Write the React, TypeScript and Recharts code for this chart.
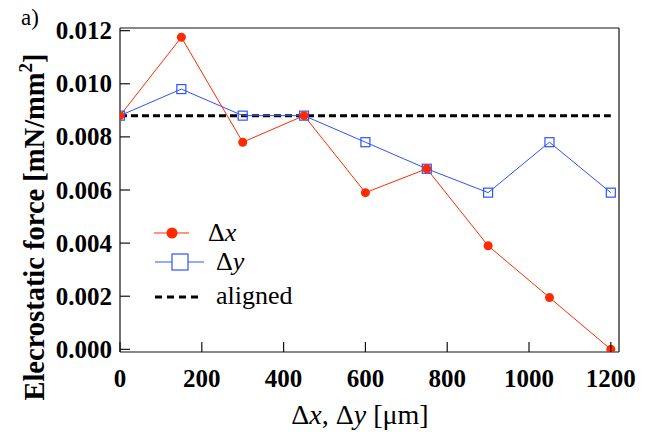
import React from 'react';
import { ComposedChart, Line, XAxis, YAxis, ReferenceLine, Legend } from 'recharts';

// displacement [µm]
const positions = [0, 150, 300, 450, 600, 750, 900, 1050, 1200];
// electrostatic force [mN/mm^2]
const forceDx = [0.0088, 0.01175, 0.0078, 0.0088, 0.0059, 0.0068, 0.0039, 0.00195, 0.0];
const forceDy = [0.0088, 0.0098, 0.0088, 0.0088, 0.0078, 0.0068, 0.0059, 0.0078, 0.0059];
const forceAligned = [0.0088, 0.0088, 0.0088, 0.0088, 0.0088, 0.0088, 0.0088, 0.0088, 0.0088];

const xTicks = [0, 200, 400, 600, 800, 1000, 1200];
const yTicks = [0, 0.002, 0.004, 0.006, 0.008, 0.01, 0.012];

const RED = '#ff2a00';
const BLUE = '#2d52ff';
const serif = { fontFamily: 'Liberation Serif, Times New Roman, Times, serif' };

const data = positions.map((p, i) => ({
  pos: p,
  dx: forceDx[i],
  dy: forceDy[i],
  aligned: forceAligned[i],
}));

const XTick = ({ x, y, payload }: any) => (
  <g>
    <line x1={x} y1={y} x2={x} y2={y - 10} stroke="#111" strokeWidth={1.2} />
    <text x={x} y={y + 35} textAnchor="middle" style={serif} fontWeight="bold" fontSize={25} fill="#000">
      {payload.value}
    </text>
  </g>
);

const YTick = ({ x, y, payload }: any) => (
  <g>
    <line x1={x} y1={y} x2={x + 10} y2={y} stroke="#111" strokeWidth={1.2} />
    <text x={x - 8} y={y + 8.5} textAnchor="end" style={serif} fontWeight="bold" fontSize={25} fill="#000">
      {payload.value.toFixed(3)}
    </text>
  </g>
);

const SquareDot = ({ cx, cy }: any) => (
  <rect x={cx - 4.5} y={cy - 4.5} width={9} height={9} fill="none" stroke={BLUE} strokeWidth={1.2} />
);

const CircleDot = ({ cx, cy }: any) => <circle cx={cx} cy={cy} r={4.5} fill={RED} stroke="none" />;

const LegendBox = () => (
  <svg width={160} height={95} style={{ overflow: 'visible' }}>
    <g transform="translate(-150,-220)">
      <line x1={154} y1={233} x2={189} y2={233} stroke={RED} strokeWidth={1} />
      <circle cx={172} cy={233} r={5.5} fill={RED} />
      <text x={208} y={241} style={serif} fontSize={26}>
        Δ<tspan fontStyle="italic">x</tspan>
      </text>
      <line x1={155} y1={262} x2={204} y2={262} stroke={BLUE} strokeWidth={1} />
      <rect x={172} y={254} width={16} height={16} fill="#fff" stroke={BLUE} strokeWidth={1.2} />
      <text x={216} y={270} style={serif} fontSize={26}>
        Δ<tspan fontStyle="italic">y</tspan>
      </text>
      <line x1={155} y1={297} x2={199} y2={297} stroke="#000" strokeWidth={3} strokeDasharray="7 5" />
      <text x={216} y={304} style={serif} fontSize={26}>
        aligned
      </text>
    </g>
  </svg>
);

export default function App() {
  return (
    <div style={{ position: 'absolute', left: 0, top: 0, width: 647, height: 432, background: '#fff' }}>
      <ComposedChart
        width={647}
        height={432}
        data={data}
        margin={{ top: 28, right: 28, left: 20, bottom: 20 }}
      >
        <XAxis
          dataKey="pos"
          type="number"
          domain={[0, 1220]}
          ticks={xTicks}
          interval={0}
          height={60}
          tickSize={0}
          tickMargin={0}
          tickLine={false}
          axisLine={{ stroke: '#111', strokeWidth: 1.2 }}
          tick={<XTick />}
          allowDataOverflow
        />
        <YAxis
          type="number"
          domain={[-0.0001, 0.0121]}
          ticks={yTicks}
          interval={0}
          width={100}
          tickSize={0}
          tickMargin={0}
          tickLine={false}
          axisLine={{ stroke: '#111', strokeWidth: 1.2 }}
          tick={<YTick />}
          allowDataOverflow
        />
        <ReferenceLine y={0.0121} stroke="#111" strokeWidth={1.2} />
        <ReferenceLine x={1220} stroke="#111" strokeWidth={1.2} />
        <Line
          dataKey="aligned"
          stroke="#000"
          strokeWidth={3}
          strokeDasharray="7 4"
          dot={false}
          isAnimationActive={false}
        />
        <Line dataKey="dy" stroke={BLUE} strokeWidth={1} dot={<SquareDot />} isAnimationActive={false} />
        <Line dataKey="dx" stroke={RED} strokeWidth={1} dot={<CircleDot />} isAnimationActive={false} />
        <Legend
          layout="vertical"
          align="center"
          verticalAlign="middle"
          wrapperStyle={{ position: 'absolute', left: 150, top: 220, width: 160 }}
          content={() => <LegendBox />}
        />
        <text x={21} y={25} style={serif} fontSize={23}>
          a)
        </text>
        <text
          transform="translate(44,227) rotate(-90)"
          textAnchor="middle"
          style={serif}
          fontWeight="bold"
          fontSize={28.5}
        >
          Elecrostatic force [mN/mm<tspan dy={-12} fontSize={19}>2</tspan>
          <tspan dy={12}>]</tspan>
        </text>
        <text x={360} y={424} textAnchor="middle" style={serif} fontSize={28}>
          Δ<tspan fontStyle="italic">x</tspan>, Δ<tspan fontStyle="italic">y</tspan> [μm]
        </text>
      </ComposedChart>
    </div>
  );
}
